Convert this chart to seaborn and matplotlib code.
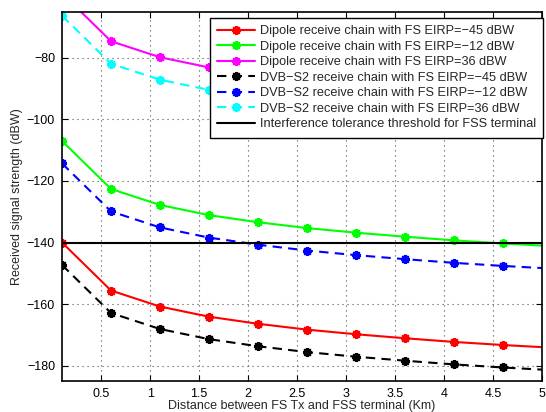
import numpy as np
import pandas as pd
import seaborn as sns
import matplotlib.pyplot as plt

# distance (Km) - markers at every point except the last one
distance = [0.1, 0.6, 1.1, 1.6, 2.1, 2.6, 3.1, 3.6, 4.1, 4.6, 5.0]

# received signal strength (dBW)
dipole_m45 = [-140.0, -155.6, -160.8, -164.1, -166.4, -168.3, -169.8, -171.1, -172.3, -173.3, -174.0]
dipole_m12 = [-107.0, -122.6, -127.8, -131.1, -133.4, -135.3, -136.8, -138.1, -139.3, -140.3, -141.0]
dipole_36 = [-59.0, -74.6, -79.8, -83.1, -85.4, -87.3, -88.8, -90.1, -91.3, -92.3, -93.0]
dvb_m45 = [-147.3, -162.9, -168.1, -171.4, -173.7, -175.6, -177.1, -178.4, -179.6, -180.6, -181.3]
dvb_m12 = [-114.3, -129.9, -135.1, -138.4, -140.7, -142.6, -144.1, -145.4, -146.6, -147.6, -148.3]
dvb_36 = [-66.3, -81.9, -87.1, -90.4, -92.7, -94.6, -96.1, -97.4, -98.6, -99.6, -100.3]
threshold = -140

labels = [
    'Dipole receive chain with FS EIRP=\u221245 dBW',
    'Dipole receive chain with FS EIRP=\u221212 dBW',
    'Dipole receive chain with FS EIRP=36 dBW',
    'DVB\u2212S2 receive chain with FS EIRP=\u221245 dBW',
    'DVB\u2212S2 receive chain with FS EIRP=\u221212 dBW',
    'DVB\u2212S2 receive chain with FS EIRP=36 dBW',
]
threshold_label = 'Interference tolerance threshold for FSS terminal'

series = [dipole_m45, dipole_m12, dipole_36, dvb_m45, dvb_m12, dvb_36]
colors = ['#ff0000', '#00ff00', '#ff00ff', '#000000', '#0000ff', '#00ffff']
dash = (0, (4.5, 3))
styles = ['-', '-', '-', dash, dash, dash]

sns.set_style('ticks')
plt.rcParams['font.family'] = ['Liberation Sans', 'DejaVu Sans']
plt.rcParams['font.size'] = 9

fig = plt.figure(figsize=(5.46, 4.12), dpi=100)
ax = fig.add_axes([0.1136, 0.0752, 0.8791, 0.8964])

for vals, lab, c, ls in zip(series, labels, colors, styles):
    df = pd.DataFrame({'d': distance, 'p': vals})
    sns.lineplot(data=df, x='d', y='p', ax=ax, color=c, linestyle=ls, lw=1.5,
                 marker=(8, 2, 0), markersize=6.5, markeredgecolor=c,
                 markeredgewidth=1.5, markevery=list(range(10)), label=lab)

ax.axhline(threshold, color='k', lw=1.5, label=threshold_label)

ax.set_xlim(0.1, 5)
ax.set_ylim(-185, -65)
ax.set_xticks(np.arange(0.5, 5.01, 0.5))
ax.set_xticklabels(['0.5', '1', '1.5', '2', '2.5', '3', '3.5', '4', '4.5', '5'])
ax.set_yticks([-180, -160, -140, -120, -100, -80])
ax.grid(True, linestyle=(0, (1, 3.5)), color='0.3', lw=0.8)
ax.tick_params(direction='in', length=4, width=0.8, top=True, right=True,
               labelsize=9, colors='k', pad=5)
for sp in ax.spines.values():
    sp.set_visible(True)
    sp.set_color('k')
    sp.set_linewidth(1.2)

ax.set_xlabel('Distance between FS Tx and FSS terminal (Km)', fontsize=9, labelpad=0)
ax.set_ylabel('Received signal strength (dBW)', fontsize=9, labelpad=3)

leg = ax.legend(loc='upper right', bbox_to_anchor=(1.003, 0.983), fontsize=9.2,
                frameon=True, fancybox=False, edgecolor='k', framealpha=1,
                handlelength=3.0, labelspacing=0.28, borderpad=0.55,
                handletextpad=0.4, borderaxespad=0)
leg.get_frame().set_linewidth(1.0)

fig.savefig('out.png', dpi=100)
